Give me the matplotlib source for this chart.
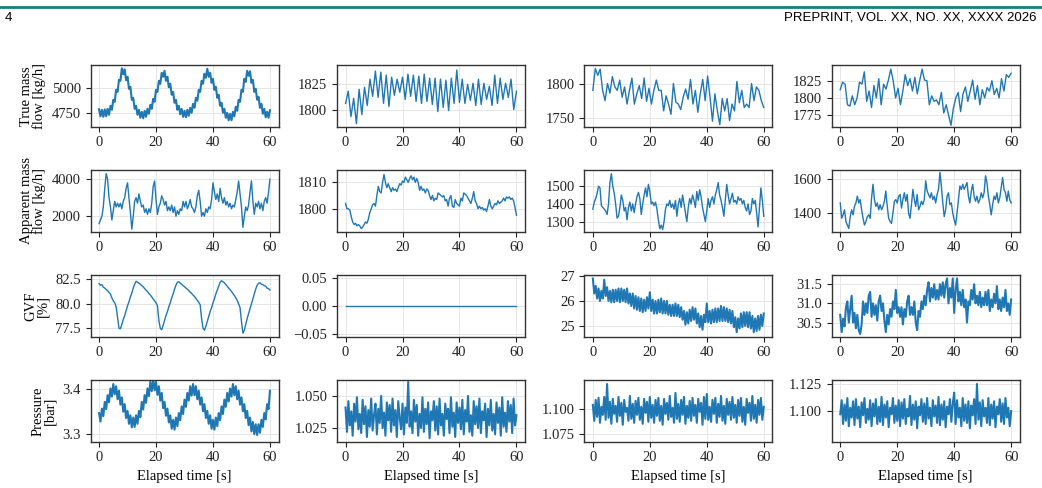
# -*- coding: utf-8 -*-
"""
Flow meter time series, 4 runs x 4 measured quantities
"""

import numpy as np
import matplotlib.pyplot as plt
from matplotlib.lines import Line2D

# Row labels (only first column carries them)
row_labels = ['True mass\nflow [kg/h]', 'Apparent mass\nflow [kg/h]', 'GVF\n[%]', 'Pressure\n[bar]']
xlabel = 'Elapsed time [s]'
header_left = '4'
header_right = 'PREPRINT, VOL. XX, NO. XX, XXXX 2026'

# True mass flow [kg/h]
true_c1 = [4790, 4720, 4785, 4715, 4790, 4720, 4795, 4735, 4825, 4785, 4885, 4865, 4985, 4965, 5085, 5075,
           5200, 5140, 5190, 5080, 5115, 4995, 5015, 4885, 4905, 4795, 4825, 4735, 4785, 4705, 4765, 4700,
           4775, 4715, 4795, 4745, 4835, 4795, 4895, 4865, 4985, 4965, 5075, 5045, 5155, 5115, 5175, 5075,
           5115, 5010, 5045, 4935, 4965, 4855, 4885, 4785, 4825, 4740, 4795, 4715, 4775, 4710, 4785, 4725,
           4805, 4755, 4845, 4805, 4905, 4875, 4985, 4965, 5075, 5045, 5145, 5105, 5195, 5115, 5155, 5055,
           5095, 4985, 5015, 4905, 4935, 4825, 4855, 4755, 4795, 4705, 4755, 4680, 4745, 4680, 4765, 4720,
           4815, 4775, 4885, 4865, 4985, 4965, 5095, 5065, 5175, 5125, 5170, 5055, 5085, 4965, 4995, 4885,
           4915, 4805, 4845, 4745, 4795, 4710, 4765, 4705, 4780]
true_c2 = [1806, 1818, 1793, 1811, 1786, 1820, 1795, 1822, 1804, 1830, 1813, 1838, 1812, 1837, 1806, 1834,
           1803, 1832, 1814, 1830, 1817, 1832, 1810, 1835, 1813, 1834, 1808, 1833, 1806, 1835, 1808, 1831,
           1805, 1831, 1798, 1830, 1802, 1829, 1799, 1831, 1806, 1839, 1807, 1830, 1806, 1825, 1809, 1826,
           1804, 1830, 1805, 1826, 1810, 1823, 1804, 1834, 1806, 1831, 1810, 1826, 1812, 1830, 1800, 1818]
true_c3 = [1790, 1822, 1812, 1821, 1790, 1775, 1800, 1786, 1810, 1795, 1790, 1805, 1780, 1795, 1770, 1790,
           1808, 1770, 1785, 1797, 1778, 1808, 1774, 1793, 1770, 1790, 1805, 1790, 1790, 1760, 1782, 1770,
           1755, 1800, 1773, 1770, 1762, 1780, 1792, 1777, 1806, 1770, 1790, 1758, 1785, 1806, 1775, 1811,
           1780, 1745, 1785, 1760, 1740, 1778, 1760, 1778, 1746, 1770, 1760, 1803, 1772, 1790, 1765, 1770,
           1765, 1800, 1775, 1795, 1790, 1775, 1765]
true_c4 = [1812, 1823, 1820, 1790, 1788, 1803, 1790, 1800, 1823, 1820, 1838, 1795, 1810, 1786, 1818, 1800,
           1828, 1790, 1820, 1813, 1826, 1842, 1825, 1800, 1814, 1790, 1810, 1834, 1818, 1828, 1810, 1830,
           1806, 1825, 1842, 1826, 1825, 1790, 1803, 1795, 1797, 1790, 1808, 1778, 1790, 1775, 1760, 1785,
           1800, 1808, 1780, 1806, 1816, 1795, 1810, 1826, 1798, 1818, 1790, 1812, 1800, 1815, 1810, 1825,
           1805, 1814, 1800, 1828, 1810, 1834, 1830, 1836]

# Apparent mass flow [kg/h]
app_c1 = [1600, 1800, 2000, 2500, 3500, 4300, 4000, 3000, 2500, 1800, 2300, 2800, 2500, 2700, 2500, 2700,
          2400, 2800, 3000, 3500, 3800, 3000, 2200, 1300, 2000, 2800, 3000, 2700, 3200, 2800, 2500, 2600,
          2200, 2400, 2100, 2400, 2200, 2700, 3600, 3900, 2900, 2100, 2500, 2700, 3100, 2900, 2600, 2800,
          2300, 2500, 2300, 2600, 2200, 2500, 2000, 2300, 2100, 2400, 2300, 2800, 2500, 2800, 2400, 2600,
          2900, 2500, 2400, 2200, 2500, 3100, 3400, 2800, 2000, 2200, 2000, 2400, 2200, 2500, 2400, 2900,
          3800, 3300, 2900, 3200, 2800, 3500, 3000, 2700, 3000, 2600, 2800, 2500, 2700, 2400, 2600, 2500,
          2900, 3300, 3900, 3200, 2500, 1400, 2000, 2500, 2300, 2600, 3300, 3900, 2800, 2100, 2700, 2500,
          2800, 2400, 2700, 2300, 2800, 3000, 2700, 3300, 4000]
app_c2 = [1802, 1800, 1800, 1799.5, 1797, 1795, 1794, 1794.5, 1793.5, 1794, 1793.5, 1792.5, 1793, 1794, 1795,
          1794.5, 1796, 1798.5, 1800, 1801.5, 1802, 1801, 1805, 1808.5, 1806.5, 1806, 1810, 1813, 1810, 1808,
          1809.5, 1808, 1806.5, 1808, 1807, 1807.5, 1806.5, 1808, 1809.5, 1809, 1810.5, 1810, 1812, 1811, 1810,
          1811.5, 1812.5, 1811, 1812, 1810, 1811.5, 1810, 1807, 1808.5, 1807, 1807.5, 1806, 1807.5, 1807, 1805,
          1803.5, 1805, 1803, 1804, 1803.5, 1806, 1805.5, 1805, 1804.5, 1805, 1803, 1803.5, 1801, 1804, 1805,
          1801, 1800.5, 1803.5, 1802, 1801.5, 1801, 1804, 1803, 1806, 1805.5, 1805, 1804, 1803, 1802, 1804,
          1806.5, 1803, 1802, 1800, 1801, 1800, 1800.5, 1799.5, 1800, 1799, 1801, 1803.5, 1801, 1800, 1801,
          1802, 1801.5, 1803, 1802, 1802.5, 1803, 1804, 1803, 1804.5, 1804, 1804.5, 1803.5, 1804, 1803, 1800.5,
          1797.5]
app_c3 = [1370, 1410, 1430, 1460, 1500, 1490, 1390, 1380, 1370, 1360, 1340, 1400, 1520, 1570, 1500, 1460,
          1400, 1320, 1330, 1380, 1450, 1420, 1360, 1380, 1310, 1380, 1410, 1360, 1400, 1350, 1400, 1440,
          1465, 1430, 1340, 1400, 1450, 1490, 1440, 1510, 1470, 1400, 1410, 1390, 1410, 1370, 1310, 1260,
          1280, 1255, 1300, 1370, 1400, 1390, 1420, 1380, 1400, 1370, 1420, 1330, 1400, 1430, 1380, 1450,
          1400, 1350, 1300, 1380, 1430, 1400, 1450, 1420, 1380, 1470, 1420, 1480, 1440, 1380, 1340, 1300,
          1360, 1430, 1380, 1420, 1440, 1400, 1450, 1480, 1520, 1450, 1420, 1380, 1330, 1420, 1510, 1450,
          1400, 1430, 1460, 1410, 1420, 1400, 1440, 1420, 1430, 1400, 1420, 1380, 1360, 1400, 1340, 1360,
          1430, 1400, 1420, 1350, 1270, 1380, 1490, 1420, 1330]
app_c4 = [1460, 1370, 1390, 1420, 1350, 1330, 1310, 1380, 1420, 1390, 1440, 1460, 1500, 1460, 1480, 1420,
          1370, 1330, 1350, 1380, 1390, 1370, 1490, 1570, 1480, 1440, 1460, 1420, 1450, 1420, 1440, 1470,
          1530, 1440, 1370, 1350, 1340, 1400, 1470, 1480, 1460, 1500, 1510, 1430, 1480, 1520, 1470, 1510,
          1400, 1370, 1450, 1540, 1480, 1440, 1510, 1420, 1440, 1470, 1450, 1480, 1590, 1530, 1510, 1490,
          1520, 1480, 1500, 1460, 1510, 1540, 1640, 1560, 1460, 1380, 1420, 1500, 1520, 1450, 1460, 1400,
          1360, 1330, 1400, 1480, 1560, 1540, 1570, 1540, 1560, 1580, 1500, 1460, 1530, 1570, 1500, 1470,
          1500, 1460, 1480, 1520, 1490, 1520, 1620, 1580, 1500, 1450, 1390, 1450, 1500, 1480, 1520, 1460,
          1490, 1550, 1610, 1540, 1520, 1470, 1530, 1480, 1460]

# GVF [%]
gvf_c1 = [82.05, 81.9, 81.95, 81.7, 81.6, 81.45, 81.35, 81.15, 81.0, 80.6, 80.3, 80.1, 79.7, 78.6, 77.5, 77.45,
          77.9, 78.4, 78.8, 79.3, 79.8, 80.2, 80.7, 81.1, 81.6, 82.0, 82.3, 82.2, 82.1, 82.0, 81.85, 81.75,
          81.55, 81.4, 81.25, 81.05, 80.9, 80.7, 80.5, 80.3, 80.1, 79.8, 78.3, 77.5, 77.35, 77.8, 78.3, 78.8,
          79.2, 79.7, 80.1, 80.6, 81.0, 81.5, 81.9, 82.2, 82.25, 82.1, 82.0, 81.85, 81.75, 81.6, 81.5, 81.35,
          81.2, 81.05, 80.9, 80.75, 80.55, 80.35, 80.15, 79.9, 78.5, 77.5, 77.3, 77.7, 78.2, 78.7, 79.2, 79.6,
          80.1, 80.5, 81.0, 81.4, 81.8, 82.2, 82.35, 82.25, 82.15, 81.95, 81.8, 81.6, 81.45, 81.25, 81.05, 80.85,
          80.6, 80.35, 80.0, 79.6, 78.2, 77.0, 77.3, 77.9, 78.5, 79.0, 79.5, 80.0, 80.5, 81.0, 81.5, 81.9,
          82.1, 82.15, 82.0, 81.95, 81.85, 81.8, 81.6, 81.55, 81.4]
gvf_c2 = [0.0, 0.0, 0.0, 0.0, 0.0]
gvf_c3 = [26.9, 26.3, 26.6, 26.1, 26.5, 26.0, 26.4, 26.1, 26.85, 26.2, 26.55, 26.0, 26.4, 25.95, 26.45, 25.95,
          26.45, 26.0, 26.5, 25.95, 26.5, 26.0, 26.45, 25.95, 26.5, 25.9, 26.3, 25.8, 26.3, 25.7, 26.2, 25.65,
          26.15, 25.6, 26.1, 25.55, 26.05, 25.6, 26.15, 25.7, 26.35, 25.6, 26.05, 25.5, 26.0, 25.5, 26.05, 25.55,
          26.1, 25.5, 26.0, 25.5, 26.0, 25.45, 25.85, 25.4, 25.85, 25.4, 25.9, 25.4, 25.85, 25.35, 25.75, 25.25,
          25.6, 25.05, 25.55, 25.1, 25.65, 25.2, 25.75, 25.25, 25.7, 25.1, 25.5, 24.95, 25.4, 24.85, 25.45, 25.15,
          25.9, 25.15, 25.6, 25.1, 25.65, 25.15, 25.7, 25.15, 25.7, 25.2, 25.8, 25.2, 25.75, 25.2, 25.7, 25.15,
          25.65, 25.1, 25.6, 24.95, 25.35, 24.75, 25.3, 24.9, 25.5, 24.95, 25.55, 25.0, 25.55, 24.95, 25.55, 24.9,
          25.4, 24.75, 25.3, 24.8, 25.4, 24.85, 25.45, 25.0, 25.5]
gvf_c4 = [30.7, 30.25, 30.6, 30.4, 30.9, 31.05, 30.5, 30.85, 31.2, 30.5, 30.75, 30.35, 30.7, 30.3, 30.2, 30.45,
          31.05, 30.7, 31.0, 30.75, 31.2, 31.3, 30.65, 31.0, 30.7, 30.95, 30.55, 31.05, 31.2, 30.8, 31.0, 30.55,
          30.25, 30.7, 30.45, 30.85, 30.65, 31.05, 30.85, 31.35, 30.75, 30.9, 30.65, 30.9, 30.45, 30.85, 30.65, 31.05,
          31.2, 30.7, 30.9, 30.7, 31.05, 30.5, 30.3, 30.8, 30.65, 31.05, 30.85, 31.2, 30.95, 31.35, 31.55, 31.05,
          31.4, 31.15, 31.5, 31.1, 31.35, 31.1, 31.5, 31.2, 31.55, 31.15, 31.5, 31.65, 31.0, 31.4, 31.15, 31.65,
          30.75, 31.35, 31.65, 31.05, 31.3, 30.95, 31.35, 30.9, 31.1, 30.5, 31.05, 30.95, 31.35, 31.1, 31.5, 31.0,
          31.2, 30.95, 31.3, 30.9, 31.15, 30.95, 31.3, 30.95, 31.35, 30.8, 31.1, 30.9, 31.25, 31.0, 31.45, 30.85,
          31.1, 30.8, 31.15, 30.9, 31.35, 30.8, 31.0, 30.7, 31.1]

# Pressure [bar]
pres_c1 = [3.347, 3.328, 3.357, 3.340, 3.372, 3.356, 3.387, 3.371, 3.402, 3.384, 3.412, 3.389, 3.407, 3.378,
           3.397, 3.366, 3.382, 3.350, 3.367, 3.336, 3.352, 3.323, 3.342, 3.315, 3.337, 3.316, 3.342, 3.323,
           3.352, 3.338, 3.372, 3.355, 3.387, 3.370, 3.402, 3.385, 3.417, 3.396, 3.422, 3.398, 3.417, 3.388,
           3.407, 3.375, 3.392, 3.358, 3.372, 3.341, 3.357, 3.326, 3.342, 3.312, 3.332, 3.310, 3.337, 3.318,
           3.347, 3.331, 3.362, 3.345, 3.377, 3.361, 3.392, 3.375, 3.407, 3.386, 3.412, 3.387, 3.407, 3.378,
           3.397, 3.366, 3.382, 3.351, 3.367, 3.336, 3.352, 3.323, 3.342, 3.312, 3.332, 3.310, 3.337, 3.318,
           3.347, 3.331, 3.362, 3.345, 3.377, 3.361, 3.392, 3.373, 3.402, 3.384, 3.412, 3.387, 3.407, 3.378,
           3.397, 3.366, 3.382, 3.351, 3.367, 3.336, 3.352, 3.320, 3.337, 3.306, 3.327, 3.300, 3.322, 3.298,
           3.322, 3.303, 3.332, 3.316, 3.347, 3.333, 3.367, 3.356, 3.397]
pres_c2 = [1.041, 1.022, 1.046, 1.027, 1.038, 1.019, 1.044, 1.030, 1.049, 1.024, 1.036, 1.021, 1.047, 1.028,
           1.042, 1.018, 1.039, 1.026, 1.048, 1.023, 1.035, 1.044, 1.020, 1.040, 1.029, 1.050, 1.025, 1.037,
           1.019, 1.045, 1.031, 1.043, 1.022, 1.048, 1.027, 1.039, 1.018, 1.046, 1.033, 1.024, 1.044, 1.020,
           1.041, 1.029, 1.061, 1.026, 1.038, 1.021, 1.047, 1.030, 1.043, 1.019, 1.036, 1.025, 1.049, 1.022,
           1.040, 1.028, 1.045, 1.017, 1.038, 1.031, 1.046, 1.023, 1.042, 1.020, 1.048, 1.027, 1.036, 1.019,
           1.044, 1.032, 1.040, 1.021, 1.049, 1.026, 1.037, 1.018, 1.045, 1.029, 1.041, 1.024, 1.047, 1.020,
           1.039, 1.030, 1.050, 1.022, 1.035, 1.019, 1.046, 1.028, 1.042, 1.025, 1.048, 1.021, 1.038, 1.031,
           1.044, 1.018, 1.040, 1.027, 1.047, 1.023, 1.036, 1.020, 1.045, 1.029, 1.041, 1.019, 1.049, 1.026,
           1.037, 1.022, 1.046, 1.030, 1.043, 1.021, 1.048, 1.027, 1.035]
pres_c3 = [1.104, 1.088, 1.109, 1.092, 1.111, 1.086, 1.102, 1.094, 1.112, 1.089, 1.125, 1.091, 1.107, 1.085,
           1.110, 1.095, 1.103, 1.087, 1.112, 1.093, 1.106, 1.084, 1.109, 1.097, 1.101, 1.088, 1.113, 1.090,
           1.105, 1.086, 1.108, 1.094, 1.111, 1.089, 1.102, 1.085, 1.110, 1.096, 1.107, 1.087, 1.112, 1.091,
           1.104, 1.086, 1.109, 1.093, 1.111, 1.088, 1.103, 1.084, 1.110, 1.095, 1.106, 1.089, 1.113, 1.092,
           1.101, 1.086, 1.116, 1.090, 1.105, 1.087, 1.109, 1.094, 1.112, 1.085, 1.103, 1.091, 1.108, 1.088,
           1.111, 1.093, 1.104, 1.086, 1.110, 1.097, 1.106, 1.084, 1.112, 1.090, 1.115, 1.089, 1.102, 1.087,
           1.109, 1.095, 1.111, 1.086, 1.105, 1.092, 1.113, 1.088, 1.103, 1.085, 1.110, 1.094, 1.107, 1.089,
           1.112, 1.091, 1.104, 1.086, 1.109, 1.093, 1.111, 1.087, 1.102, 1.084, 1.110, 1.096, 1.106, 1.088,
           1.113, 1.090, 1.104, 1.086, 1.109, 1.094, 1.111, 1.089, 1.102]
pres_c4 = [1.097, 1.110, 1.088, 1.106, 1.091, 1.112, 1.086, 1.103, 1.094, 1.109, 1.087, 1.111, 1.093, 1.104,
           1.085, 1.108, 1.096, 1.112, 1.089, 1.102, 1.092, 1.110, 1.086, 1.107, 1.095, 1.111, 1.088, 1.104,
           1.090, 1.113, 1.087, 1.106, 1.094, 1.109, 1.085, 1.103, 1.097, 1.112, 1.089, 1.105, 1.091, 1.110,
           1.086, 1.108, 1.093, 1.111, 1.088, 1.102, 1.095, 1.114, 1.087, 1.106, 1.092, 1.109, 1.084, 1.104,
           1.096, 1.111, 1.090, 1.107, 1.088, 1.112, 1.093, 1.103, 1.086, 1.110, 1.095, 1.105, 1.089, 1.113,
           1.087, 1.106, 1.092, 1.109, 1.085, 1.104, 1.097, 1.111, 1.090, 1.107, 1.117, 1.088, 1.110, 1.094,
           1.103, 1.086, 1.112, 1.091, 1.106, 1.089, 1.109, 1.084, 1.105, 1.096, 1.111, 1.088, 1.125, 1.092,
           1.108, 1.086, 1.110, 1.095, 1.103, 1.089, 1.112, 1.087, 1.106, 1.093, 1.109, 1.085, 1.104, 1.097,
           1.111, 1.090, 1.107, 1.088, 1.112, 1.094, 1.103, 1.086, 1.100]

grid_data = [[true_c1, true_c2, true_c3, true_c4],
             [app_c1, app_c2, app_c3, app_c4],
             [gvf_c1, gvf_c2, gvf_c3, gvf_c4],
             [pres_c1, pres_c2, pres_c3, pres_c4]]

# y limits / ticks
ylims = [[(4616, 5233), (1783, 1844), (1737, 1827), (1758, 1848)],
         [(1166, 4490), (1791.3, 1814.7), (1243, 1591), (1291, 1654)],
         [(76.64, 82.94), (-0.055, 0.055), (24.57, 27.04), (30.13, 31.74)],
         [(3.283, 3.421), (1.0143, 1.0625), (1.067, 1.129), (1.0716, 1.1287)]]
yticks = [[[4750, 5000], [1800, 1825], [1750, 1800], [1775, 1800, 1825]],
          [[2000, 4000], [1800, 1810], [1300, 1400, 1500], [1400, 1600]],
          [[77.5, 80.0, 82.5], [-0.05, 0.0, 0.05], [25, 26, 27], [30.5, 31.0, 31.5]],
          [[3.3, 3.4], [1.025, 1.050], [1.075, 1.100], [1.100, 1.125]]]

# noisy high-rate signals are drawn a bit heavier so they read as a band
dense = [[True, False, False, False],
         [False, False, False, False],
         [False, False, True, True],
         [True, True, True, True]]

plt.rcParams['font.family'] = ['Liberation Serif', 'DejaVu Serif']
fs = 10.5

W, H = 1042, 488
fig = plt.figure(figsize=(W / 100, H / 100), dpi=100)

# header rule and running head
fig.add_artist(Line2D([0, 1], [1 - 7 / H, 1 - 7 / H], transform=fig.transFigure,
                      color='#17807e', lw=2))
fig.text(5 / W, 1 - 18 / H, header_left, family='Liberation Sans', fontsize=9.5, va='center')
fig.text(1036 / W, 1 - 18 / H, header_right, family='Liberation Sans', fontsize=9.5,
         va='center', ha='right')

col_left = [90.5, 337, 584.3, 831.7]
row_top = [65, 170, 275, 380]
ax_w, ax_h = 188, 61.7

for i in range(4):
    for j in range(4):
        ax = fig.add_axes([col_left[j] / W, 1 - (row_top[i] + ax_h) / H, ax_w / W, ax_h / H])
        y = np.array(grid_data[i][j])
        t = np.linspace(0, 60, len(y))
        ax.plot(t, y, color='#1f77b4', lw=1.5 if dense[i][j] else 1.0)
        ax.set_xticks([0, 20, 40, 60])
        ax.set_yticks(yticks[i][j])
        ax.set_ylim(ylims[i][j])
        ax.grid(True, color='#e6e6e6', lw=0.7)
        ax.set_axisbelow(True)
        for s in ax.spines.values():
            s.set_color('#333333')
            s.set_linewidth(1.0)
        ax.tick_params(colors='#222222', length=3.5, width=0.8, labelsize=fs)
        if j == 0:
            ax.set_ylabel(row_labels[i], fontsize=fs, linespacing=0.95)
        if i == 3:
            ax.set_xlabel(xlabel, fontsize=fs)

plt.savefig('out.png', dpi=100)
